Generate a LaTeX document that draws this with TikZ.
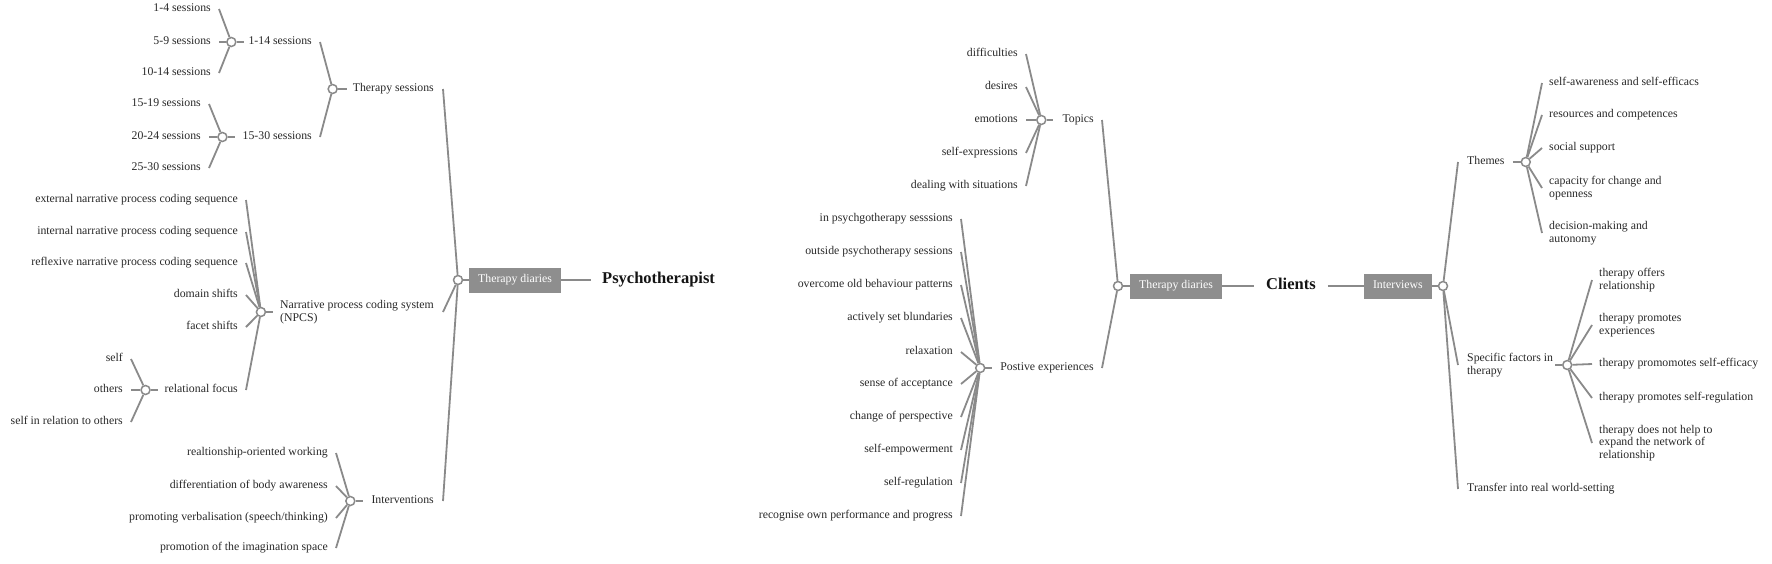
\documentclass[tikz,border=0pt]{standalone}
\usepackage{fontspec}
\setmainfont{Liberation Serif}
\definecolor{ln}{HTML}{8A8A8A}
\definecolor{txt}{HTML}{282828}
\definecolor{ttlc}{HTML}{141414}
\definecolor{boxc}{HTML}{8E8E8E}
\begin{document}
\begin{tikzpicture}[x=1pt,y=-1pt,
  every node/.style={font=\fontsize{11.8}{12.5}\selectfont, text=txt},
  lbl/.style={inner sep=0pt, text height=5.2pt, text depth=0pt},
  mlbl/.style={inner sep=0pt, align=left},
  hub/.style={circle, draw=ln, fill=white, line width=1.5pt, minimum size=9pt, inner sep=0pt},
  cbox/.style={fill=boxc, text=white, inner xsep=9pt, inner ysep=0pt, minimum height=25pt, text height=5.2pt, text depth=0pt},
  ttl/.style={font=\fontsize{16.5}{18}\selectfont\bfseries, text=ttlc, inner sep=0pt, text height=7.5pt, text depth=0pt},
  con/.style={draw=ln, line width=1.8pt},
]
\useasboundingbox (0,0) rectangle (1772,563);

% ===================== Psychotherapist =====================
\node[ttl,anchor=west] (psy) at (602,280) {Psychotherapist};
\node[cbox,anchor=west] (pdia) at (469,280) {Therapy diaries};
\node[hub] (hp) at (458,280) {};
\draw[con] (hp) -- (pdia.west);
\draw[con] (pdia.east) -- ([xshift=-11pt]psy.west);

\node[lbl,anchor=east] (ts) at (434,89) {Therapy sessions};
\node[mlbl,anchor=east] (npcs) at (434,312) {Narrative process coding system\\(NPCS)};
\node[lbl,anchor=east] (iv) at (434,501) {Interventions};
\draw[con] ([xshift=9pt]ts.east) -- (hp);
\draw[con] ([xshift=9pt]npcs.east) -- (hp);
\draw[con] ([xshift=9pt]iv.east) -- (hp);

% Therapy sessions
\node[hub] (hts) at ([xshift=-20pt]ts.west) {};
\draw[con] (hts) -- ([xshift=-6pt]ts.west);
\node[lbl,anchor=east] (s114) at (312,42) {1-14 sessions};
\node[lbl,anchor=east] (s1530) at (312,137) {15-30 sessions};
\draw[con] ([xshift=8pt]s114.east) -- (hts);
\draw[con] ([xshift=8pt]s1530.east) -- (hts);

\node[hub] (h114) at ([xshift=-17pt]s114.west) {};
\draw[con] (h114) -- ([xshift=-4pt]s114.west);
\node[lbl,anchor=east] (a1) at (211,9) {1-4 sessions};
\node[lbl,anchor=east] (a2) at (211,42) {5-9 sessions};
\node[lbl,anchor=east] (a3) at (211,73) {10-14 sessions};
\draw[con] ([xshift=8pt]a1.east) -- (h114);
\draw[con] ([xshift=8pt]a2.east) -- (h114);
\draw[con] ([xshift=8pt]a3.east) -- (h114);

\node[hub] (h1530) at ([xshift=-20pt]s1530.west) {};
\draw[con] (h1530) -- ([xshift=-7pt]s1530.west);
\node[lbl,anchor=east] (b1) at (201,104) {15-19 sessions};
\node[lbl,anchor=east] (b2) at (201,137) {20-24 sessions};
\node[lbl,anchor=east] (b3) at (201,168) {25-30 sessions};
\draw[con] ([xshift=8pt]b1.east) -- (h1530);
\draw[con] ([xshift=8pt]b2.east) -- (h1530);
\draw[con] ([xshift=8pt]b3.east) -- (h1530);

% NPCS
\node[hub] (hnp) at ([xshift=-19pt]npcs.west) {};
\draw[con] (hnp) -- ([xshift=-7pt]npcs.west);
\node[lbl,anchor=east] (c1) at (238,200) {external narrative process coding sequence};
\node[lbl,anchor=east] (c2) at (238,232) {internal narrative process coding sequence};
\node[lbl,anchor=east] (c3) at (238,263) {reflexive narrative process coding sequence};
\node[lbl,anchor=east] (c4) at (238,295) {domain shifts};
\node[lbl,anchor=east] (c5) at (238,327) {facet shifts};
\node[lbl,anchor=east] (c6) at (238,390) {relational focus};
\draw[con] ([xshift=8pt]c1.east) -- (hnp);
\draw[con] ([xshift=8pt]c2.east) -- (hnp);
\draw[con] ([xshift=8pt]c3.east) -- (hnp);
\draw[con] ([xshift=8pt]c4.east) -- (hnp);
\draw[con] ([xshift=8pt]c5.east) -- (hnp);
\draw[con] ([xshift=8pt]c6.east) -- (hnp);

\node[hub] (hrf) at ([xshift=-19pt]c6.west) {};
\draw[con] (hrf) -- ([xshift=-7pt]c6.west);
\node[lbl,anchor=east] (d1) at (123,359) {self};
\node[lbl,anchor=east] (d2) at (123,390) {others};
\node[lbl,anchor=east] (d3) at (123,422) {self in relation to others};
\draw[con] ([xshift=8pt]d1.east) -- (hrf);
\draw[con] ([xshift=8pt]d2.east) -- (hrf);
\draw[con] ([xshift=8pt]d3.east) -- (hrf);

% Interventions
\node[hub] (hiv) at ([xshift=-21pt]iv.west) {};
\draw[con] (hiv) -- ([xshift=-8pt]iv.west);
\node[lbl,anchor=east] (e1) at (328,453) {realtionship-oriented working};
\node[lbl,anchor=east] (e2) at (328,486) {differentiation of body awareness};
\node[lbl,anchor=east] (e3) at (328,518) {promoting verbalisation (speech/thinking)};
\node[lbl,anchor=east] (e4) at (328,548) {promotion of the imagination space};
\draw[con] ([xshift=8pt]e1.east) -- (hiv);
\draw[con] ([xshift=8pt]e2.east) -- (hiv);
\draw[con] ([xshift=8pt]e3.east) -- (hiv);
\draw[con] ([xshift=8pt]e4.east) -- (hiv);

% ===================== Clients =====================
\node[ttl,anchor=west] (cli) at (1266,286) {Clients};
\node[cbox,anchor=west] (cdia) at (1130,286) {Therapy diaries};
\node[hub] (hc) at (1118,286) {};
\draw[con] (hc) -- (cdia.west);
\draw[con] (cdia.east) -- ([xshift=-12pt]cli.west);
\node[cbox,anchor=east] (civ) at (1432,286) {Interviews};
\draw[con] ([xshift=12pt]cli.east) -- (civ.west);
\node[hub] (hi) at (1443,286) {};
\draw[con] (civ.east) -- (hi);

% Topics / Positive experiences
\node[lbl,anchor=east] (top) at (1094,120) {Topics};
\node[lbl,anchor=east] (pos) at (1094,368) {Postive experiences};
\draw[con] ([xshift=8pt]top.east) -- (hc);
\draw[con] ([xshift=8pt]pos.east) -- (hc);

\node[hub] (htop) at ([xshift=-21pt]top.west) {};
\draw[con] (htop) -- ([xshift=-9pt]top.west);
\node[lbl,anchor=east] (f1) at (1018,54) {difficulties};
\node[lbl,anchor=east] (f2) at (1018,87) {desires};
\node[lbl,anchor=east] (f3) at (1018,120) {emotions};
\node[lbl,anchor=east] (f4) at (1018,153) {self-expressions};
\node[lbl,anchor=east] (f5) at (1018,186) {dealing with situations};
\draw[con] ([xshift=8pt]f1.east) -- (htop);
\draw[con] ([xshift=8pt]f2.east) -- (htop);
\draw[con] ([xshift=8pt]f3.east) -- (htop);
\draw[con] ([xshift=8pt]f4.east) -- (htop);
\draw[con] ([xshift=8pt]f5.east) -- (htop);

\node[hub] (hpos) at ([xshift=-20pt]pos.west) {};
\draw[con] (hpos) -- ([xshift=-8pt]pos.west);
\node[lbl,anchor=east] (g1) at (953,219) {in psychgotherapy sesssions};
\node[lbl,anchor=east] (g2) at (953,252) {outside psychotherapy sessions};
\node[lbl,anchor=east] (g3) at (953,285) {overcome old behaviour patterns};
\node[lbl,anchor=east] (g4) at (953,318) {actively set blundaries};
\node[lbl,anchor=east] (g5) at (953,352) {relaxation};
\node[lbl,anchor=east] (g6) at (953,384) {sense of acceptance};
\node[lbl,anchor=east] (g7) at (953,417) {change of perspective};
\node[lbl,anchor=east] (g8) at (953,450) {self-empowerment};
\node[lbl,anchor=east] (g9) at (953,483) {self-regulation};
\node[lbl,anchor=east] (g10) at (953,516) {recognise own performance and progress};
\draw[con] ([xshift=8pt]g1.east) -- (hpos);
\draw[con] ([xshift=8pt]g2.east) -- (hpos);
\draw[con] ([xshift=8pt]g3.east) -- (hpos);
\draw[con] ([xshift=8pt]g4.east) -- (hpos);
\draw[con] ([xshift=8pt]g5.east) -- (hpos);
\draw[con] ([xshift=8pt]g6.east) -- (hpos);
\draw[con] ([xshift=8pt]g7.east) -- (hpos);
\draw[con] ([xshift=8pt]g8.east) -- (hpos);
\draw[con] ([xshift=8pt]g9.east) -- (hpos);
\draw[con] ([xshift=8pt]g10.east) -- (hpos);

% Interviews
\node[lbl,anchor=west] (th) at (1467,162) {Themes};
\node[mlbl,anchor=west] (sp) at (1467,365) {Specific factors in\\therapy};
\node[lbl,anchor=west] (tr) at (1467,489) {Transfer into real world-setting};
\draw[con] (hi) -- ([xshift=-9pt]th.west);
\draw[con] (hi) -- ([xshift=-9pt]sp.west);
\draw[con] (hi) -- ([xshift=-9pt]tr.west);

\node[hub] (hth) at ([xshift=21pt]th.east) {};
\draw[con] ([xshift=8pt]th.east) -- (hth);
\node[lbl,anchor=west] (k1) at (1549,83) {self-awareness and self-efficacs};
\node[lbl,anchor=west] (k2) at (1549,115) {resources and competences};
\node[lbl,anchor=west] (k3) at (1549,148) {social support};
\node[mlbl,anchor=west] (k4) at (1549,188) {capacity for change and\\openness};
\node[mlbl,anchor=west] (k5) at (1549,233) {decision-making and\\autonomy};
\draw[con] (hth) -- ([xshift=-7pt]k1.west);
\draw[con] (hth) -- ([xshift=-7pt]k2.west);
\draw[con] (hth) -- ([xshift=-7pt]k3.west);
\draw[con] (hth) -- ([xshift=-7pt]k4.west);
\draw[con] (hth) -- ([xshift=-7pt]k5.west);

\node[hub] (hsp) at ([xshift=14pt]sp.east) {};
\draw[con] ([xshift=2pt]sp.east) -- (hsp);
\node[mlbl,anchor=west] (m1) at (1599,280) {therapy offers\\relationship};
\node[mlbl,anchor=west] (m2) at (1599,325) {therapy promotes\\experiences};
\node[lbl,anchor=west] (m3) at (1599,364) {therapy promomotes self-efficacy};
\node[lbl,anchor=west] (m4) at (1599,398) {therapy promotes self-regulation};
\node[mlbl,anchor=west] (m5) at (1599,443) {therapy does not help to\\expand the network of\\relationship};
\draw[con] (hsp) -- ([xshift=-7pt]m1.west);
\draw[con] (hsp) -- ([xshift=-7pt]m2.west);
\draw[con] (hsp) -- ([xshift=-7pt]m3.west);
\draw[con] (hsp) -- ([xshift=-7pt]m4.west);
\draw[con] (hsp) -- ([xshift=-7pt]m5.west);
\end{tikzpicture}
\end{document}
